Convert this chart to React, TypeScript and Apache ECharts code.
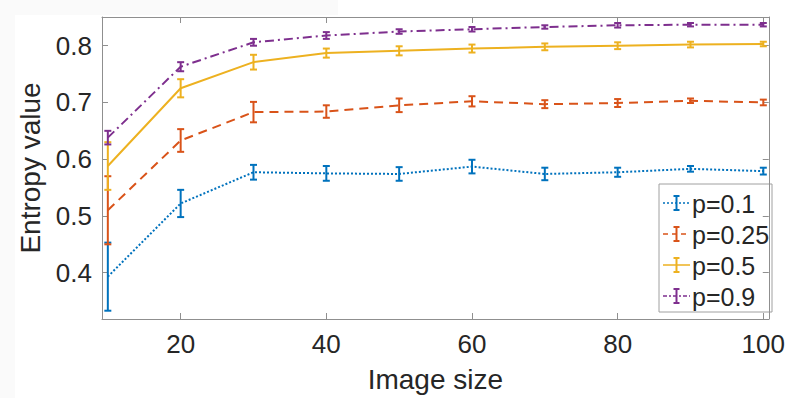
import React, { useEffect, useRef } from "react";
import * as echarts from "echarts";

const imageSizes = [10, 20, 30, 40, 50, 60, 70, 80, 90, 100];
const seriesNames = ["p=0.1", "p=0.25", "p=0.5", "p=0.9"];

const meanP01 = [0.393, 0.522, 0.577, 0.575, 0.574, 0.587, 0.574, 0.577, 0.583, 0.579];
const errP01 = [0.06, 0.024, 0.013, 0.013, 0.012, 0.012, 0.011, 0.008, 0.005, 0.006];
const meanP025 = [0.51, 0.633, 0.683, 0.684, 0.695, 0.702, 0.697, 0.699, 0.703, 0.7];
const errP025 = [0.06, 0.02, 0.018, 0.011, 0.012, 0.009, 0.007, 0.007, 0.004, 0.005];
const meanP05 = [0.588, 0.725, 0.771, 0.787, 0.791, 0.795, 0.798, 0.8, 0.802, 0.803];
const errP05 = [0.042, 0.016, 0.013, 0.008, 0.008, 0.007, 0.006, 0.006, 0.005, 0.004];
const meanP09 = [0.638, 0.763, 0.806, 0.818, 0.825, 0.829, 0.833, 0.836, 0.837, 0.837];
const errP09 = [0.012, 0.008, 0.006, 0.006, 0.004, 0.004, 0.003, 0.004, 0.003, 0.003];

const xTicks = [20, 40, 60, 80, 100];
const yTicks = [0.4, 0.5, 0.6, 0.7, 0.8];

const colors = ["#0072BD", "#D95319", "#EDB120", "#7E2F8E"];
const dashes: any[] = [[2, 2], [9, 6], "solid", [9, 4, 2, 4]];
const legendDashes: any[] = [[2, 2], [5, 4], null, [4, 2, 2, 2]];
const means = [meanP01, meanP025, meanP05, meanP09];
const errs = [errP01, errP025, errP05, errP09];

const FONT = "'Liberation Sans', Arial, Helvetica, sans-serif";
const TXT = "#262626";
const AX = "#8f8f8f";

export default function App() {
  const ref = useRef<HTMLDivElement>(null);
  useEffect(() => {
    if (!ref.current) return;
    const chart = echarts.init(ref.current, null, { renderer: "svg" });

    const series: any[] = [];
    means.forEach((m, i) => {
      series.push({
        type: "line",
        name: seriesNames[i],
        data: imageSizes.map((x, k) => [x, m[k]]),
        symbol: "none",
        lineStyle: { color: colors[i], width: 2, type: dashes[i] },
        z: 2 + i,
      });
      series.push({
        type: "custom",
        name: seriesNames[i] + " err",
        data: imageSizes.map((x, k) => [x, m[k], errs[i][k]]),
        z: 2 + i,
        renderItem: (params: any, api: any) => {
          const x = api.value(0);
          const y = api.value(1);
          const e = api.value(2);
          const lo = api.coord([x, y - e]);
          const hi = api.coord([x, y + e]);
          const hw = 3.5;
          const style = { stroke: colors[i], lineWidth: 2, fill: null };
          return {
            type: "group",
            children: [
              { type: "line", shape: { x1: lo[0], y1: lo[1], x2: hi[0], y2: hi[1] }, style },
              { type: "line", shape: { x1: lo[0] - hw, y1: lo[1], x2: lo[0] + hw, y2: lo[1] }, style },
              { type: "line", shape: { x1: hi[0] - hw, y1: hi[1], x2: hi[0] + hw, y2: hi[1] }, style },
            ],
          };
        },
      });
    });

    const legendX = 659;
    const legendY = 184;
    const legendChildren: any[] = [
      {
        type: "rect",
        shape: { x: legendX, y: legendY, width: 113, height: 128 },
        style: { fill: "#ffffff", stroke: "#a0a0a0", lineWidth: 1 },
      },
    ];
    seriesNames.forEach((name, i) => {
      const cy = 203 + i * 31;
      const st: any = { stroke: colors[i], lineWidth: 1.5 };
      if (legendDashes[i]) st.lineDash = legendDashes[i];
      legendChildren.push({ type: "line", shape: { x1: 663, y1: cy, x2: 690, y2: cy }, style: st });
      legendChildren.push({ type: "line", shape: { x1: 676.5, y1: cy - 7, x2: 676.5, y2: cy + 7 }, style: { stroke: colors[i], lineWidth: 2 } });
      legendChildren.push({ type: "line", shape: { x1: 673.5, y1: cy - 7, x2: 679.5, y2: cy - 7 }, style: { stroke: colors[i], lineWidth: 2 } });
      legendChildren.push({ type: "line", shape: { x1: 673.5, y1: cy + 7, x2: 679.5, y2: cy + 7 }, style: { stroke: colors[i], lineWidth: 2 } });
      legendChildren.push({
        type: "text",
        x: 692,
        y: cy + 1,
        style: { text: name, fill: TXT, font: `25px ${FONT}`, verticalAlign: "middle", align: "left" },
      });
    });

    const baseAxis = {
      axisLine: { show: true, onZero: false, lineStyle: { color: AX, width: 1 } },
      splitLine: { show: false },
    };

    chart.setOption({
      animation: false,
      backgroundColor: "#ffffff",
      grid: { left: 102, right: 11, top: 17, bottom: 79, containLabel: false },
      xAxis: [
        {
          ...baseAxis,
          type: "value",
          min: 9.2,
          max: 100.75,
          position: "bottom",
          name: "Image size",
          nameLocation: "middle",
          nameGap: 46,
          nameTextStyle: { color: TXT, fontSize: 28, fontFamily: FONT },
          axisTick: { show: true, inside: true, length: 6, customValues: xTicks, lineStyle: { color: AX } },
          axisLabel: { show: true, customValues: xTicks, margin: 12, color: TXT, fontSize: 26, fontFamily: FONT },
        },
        {
          ...baseAxis,
          type: "value",
          min: 9.2,
          max: 100.75,
          position: "top",
          axisTick: { show: true, inside: true, length: 6, customValues: xTicks, lineStyle: { color: AX } },
          axisLabel: { show: false },
        },
      ],
      yAxis: [
        {
          ...baseAxis,
          type: "value",
          min: 0.3184,
          max: 0.8506,
          position: "left",
          name: "Entropy value",
          nameLocation: "middle",
          nameGap: 55,
          nameTextStyle: { color: TXT, fontSize: 28, fontFamily: FONT },
          axisTick: { show: true, inside: true, length: 6, customValues: yTicks, lineStyle: { color: AX } },
          axisLabel: {
            show: true,
            customValues: yTicks,
            margin: 10,
            color: TXT,
            fontSize: 26,
            fontFamily: FONT,
            formatter: (v: number) => v.toFixed(1),
          },
        },
        {
          ...baseAxis,
          type: "value",
          min: 0.3184,
          max: 0.8506,
          position: "right",
          axisTick: { show: true, inside: true, length: 6, customValues: yTicks, lineStyle: { color: AX } },
          axisLabel: { show: false },
        },
      ],
      graphic: [
        { type: "rect", shape: { x: 0, y: 0, width: 15, height: 398 }, style: { fill: "#fafafa" }, z: -10, silent: true },
        { type: "rect", shape: { x: 0, y: 0, width: 338, height: 15 }, style: { fill: "#fafafa" }, z: -10, silent: true },
        { type: "group", children: legendChildren, z: 100 },
      ],
      series,
    });
    return () => chart.dispose();
  }, []);
  return (
    <div
      ref={ref}
      style={{ position: "fixed", left: 0, top: 0, width: 788, height: 398, background: "#fff" }}
    />
  );
}
